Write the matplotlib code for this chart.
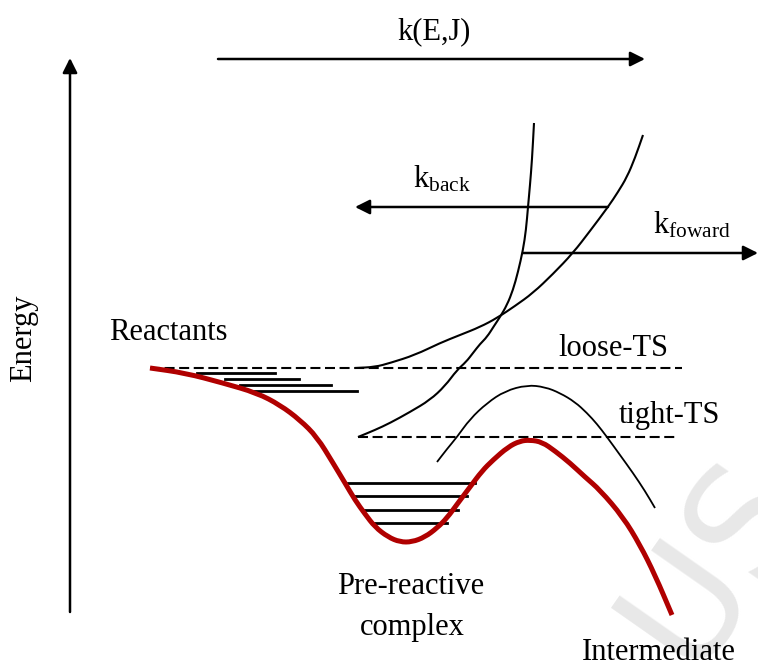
import matplotlib
matplotlib.use("Agg")
import matplotlib.pyplot as plt
from matplotlib.path import Path
from matplotlib.patches import PathPatch

plt.rcParams['font.family'] = ['Liberation Serif', 'DejaVu Serif']
plt.rcParams['mathtext.fontset'] = 'custom'
plt.rcParams['mathtext.rm'] = 'Liberation Serif'
plt.rcParams['mathtext.it'] = 'Liberation Serif:italic'

# potential energy surface (red) in pixel coordinates
pes_x = [150, 185, 223, 257, 280, 300, 317, 333, 345, 355, 365, 375, 388, 400, 412, 425, 437, 447,
         458, 470, 482, 493, 508, 520, 530, 542, 555, 570, 585, 600, 623, 640, 655, 672]
pes_y = [368, 373, 383, 393, 405, 420, 437, 463, 483, 500, 514, 527, 537, 542, 542, 537, 528, 518,
         503, 487, 471, 460, 447, 441, 440, 442, 451, 463, 477, 490, 517, 545, 575, 615]

# loose-TS curve, rises to the top right
loose_x = [355, 375, 390, 415, 440, 460, 480, 497, 515, 533, 553, 573, 590, 608, 618, 627, 635, 643]
loose_y = [368, 367, 363, 355, 343, 335, 327, 318, 306, 293, 274, 253, 231, 207, 192, 177, 158, 135]

# tight-TS curve, the steep one
tight_x = [358, 375, 390, 410, 430, 445, 457, 466, 473, 480, 487, 494, 500, 507, 513, 518, 523,
           526, 528, 530, 532, 534]
tight_y = [437, 430, 423, 412, 400, 386, 370, 362, 353, 344, 337, 326, 317, 305, 290, 272, 250,
           230, 207, 185, 160, 123]

# hump above the tight barrier
hump_x = [437, 447, 457, 470, 487, 505, 527, 545, 560, 575, 587, 597, 607, 620, 633, 645, 655]
hump_y = [462, 449, 437, 419, 403, 391, 385, 387, 393, 402, 413, 424, 437, 455, 473, 491, 508]

# vibrational levels
react_lvl_y = [373, 379, 385, 391]
react_lvl_x0 = [197, 225, 240, 250]
react_lvl_x1 = [275, 299, 331, 357]
well_lvl_y = [483, 496, 510, 523]
well_lvl_x0 = [348, 355, 363, 372]
well_lvl_x1 = [475, 467, 458, 447]

loose_ts_y = 368
tight_ts_y = 437


def smooth_curve(ax, xs, ys, **kw):
    # quadratic bezier through the midpoints, the read points are the control points
    pts = list(zip(xs, ys))
    verts = [pts[0], ((pts[0][0] + pts[1][0]) / 2, (pts[0][1] + pts[1][1]) / 2)]
    codes = [Path.MOVETO, Path.LINETO]
    for i in range(1, len(pts) - 1):
        mid = ((pts[i][0] + pts[i + 1][0]) / 2, (pts[i][1] + pts[i + 1][1]) / 2)
        verts += [pts[i], mid]
        codes += [Path.CURVE3, Path.CURVE3]
    verts.append(pts[-1])
    codes.append(Path.LINETO)
    ax.add_patch(PathPatch(Path(verts, codes), fill=False, **kw))


fig = plt.figure(figsize=(7.58, 6.63), dpi=100)
ax = fig.add_axes([0, 0, 1, 1])
ax.set_xlim(0, 758)
ax.set_ylim(663, 0)
ax.axis('off')

# watermark
ax.text(690, 672, "US", fontsize=110, color='#e8e8e8', rotation=55,
        rotation_mode='anchor', family='DejaVu Sans', zorder=0)

lw = 1.5
dash = (4.8, 2.2)
ax.plot([150, 682], [loose_ts_y, loose_ts_y], color='black', lw=lw, dashes=dash, zorder=2)
ax.plot([358, 677], [tight_ts_y, tight_ts_y], color='black', lw=lw, dashes=dash, zorder=2)

for y, x0, x1 in zip(react_lvl_y, react_lvl_x0, react_lvl_x1):
    ax.plot([x0, x1], [y, y], color='black', lw=2, zorder=2)
for y, x0, x1 in zip(well_lvl_y, well_lvl_x0, well_lvl_x1):
    ax.plot([x0, x1], [y, y], color='black', lw=2, zorder=2)

smooth_curve(ax, loose_x, loose_y, edgecolor='black', lw=lw, zorder=3)
smooth_curve(ax, tight_x, tight_y, edgecolor='black', lw=lw, zorder=3)
smooth_curve(ax, hump_x, hump_y, edgecolor='black', lw=1.3, zorder=3)
smooth_curve(ax, pes_x, pes_y, edgecolor='#b00000', lw=3.6, zorder=4, capstyle='butt')

arrow = dict(arrowstyle='-|>', color='black', lw=1.8, mutation_scale=22, shrinkA=0, shrinkB=0)
ax.annotate('', xy=(70, 58), xytext=(70, 612), arrowprops=arrow)
ax.annotate('', xy=(645, 59), xytext=(218, 59), arrowprops=arrow)
ax.annotate('', xy=(355, 207), xytext=(608, 207), arrowprops=arrow)
ax.annotate('', xy=(758, 253), xytext=(523, 253), arrowprops=arrow)

fs = 22
ax.text(434, 32, "k(E,J)", fontsize=fs, ha='center', va='center')
ax.text(24, 338, "Energy", fontsize=fs, ha='center', va='center', rotation=90)
ax.text(168, 332, "Reactants", fontsize=fs, ha='center', va='center')
ax.text(613, 348, "loose-TS", fontsize=fs, ha='center', va='center')
ax.text(669, 415, "tight-TS", fontsize=fs, ha='center', va='center')
ax.text(413, 188, r"k$_{\mathrm{back}}$", fontsize=fs, ha='left', va='baseline')
ax.text(653, 233, r"k$_{\mathrm{foward}}$", fontsize=fs, ha='left', va='baseline')
ax.text(411, 586, "Pre-reactive", fontsize=fs, ha='center', va='center')
ax.text(412, 628, "complex", fontsize=fs, ha='center', va='center')
ax.text(582, 660, "Intermediate", fontsize=fs, ha='left', va='baseline')

fig.savefig("out.png", dpi=100)
